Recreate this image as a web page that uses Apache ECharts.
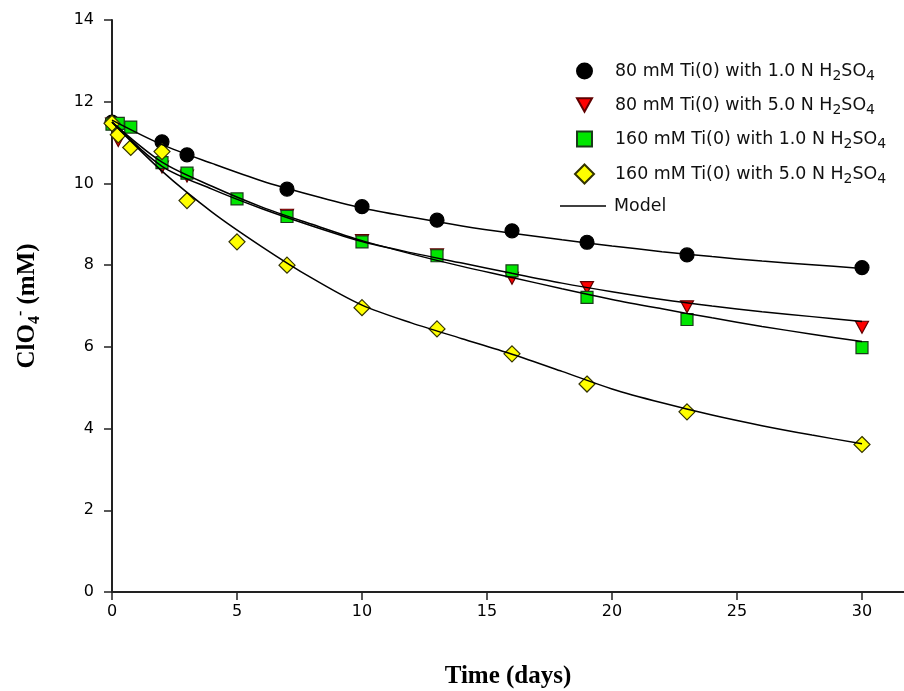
<!DOCTYPE html>
<html>
<head>
<meta charset="utf-8">
<script src="https://cdn.jsdelivr.net/npm/echarts@6/dist/echarts.min.js"></script>
<style>html,body{margin:0;padding:0;background:#fff;}#c{width:904px;height:691px;}</style>
</head>
<body>
<div id="c"></div>
<script>
// ---- data ----
var seriesNames = [
  '80 mM Ti(0) with 1.0 N H2SO4',
  '80 mM Ti(0) with 5.0 N H2SO4',
  '160 mM Ti(0) with 1.0 N H2SO4',
  '160 mM Ti(0) with 5.0 N H2SO4'
];
var timesBlack = [0, 2, 3, 7, 10, 13, 16, 19, 23, 30];
var valuesBlack = [11.5, 11.02, 10.70, 9.86, 9.43, 9.10, 8.84, 8.56, 8.25, 7.94];
var timesRed = [0, 0.25, 2, 3, 7, 10, 13, 16, 19, 23, 30];
var valuesRed = [11.45, 11.05, 10.40, 10.18, 9.22, 8.60, 8.25, 7.68, 7.45, 6.98, 6.48];
var timesGreen = [0, 0.25, 0.75, 2, 3, 5, 7, 10, 13, 16, 19, 23, 30];
var valuesGreen = [11.45, 11.47, 11.38, 10.51, 10.25, 9.62, 9.19, 8.57, 8.23, 7.86, 7.21, 6.67, 5.98];
var timesYellow = [0, 0.25, 0.75, 2, 3, 5, 7, 10, 13, 16, 19, 23, 30];
var valuesYellow = [11.47, 11.19, 10.88, 10.78, 9.58, 8.57, 8.00, 6.96, 6.44, 5.83, 5.09, 4.41, 3.61];

// model curves, every 2 days
var modelTimes = [0, 2, 4, 6, 8, 10, 12, 14, 16, 18, 20, 22, 24, 26, 28, 30];
var modelBlack = [11.55, 10.95, 10.49, 10.06, 9.71, 9.40, 9.17, 8.96, 8.78, 8.62, 8.47, 8.33, 8.21, 8.10, 8.01, 7.92];
var modelRed = [11.5, 10.42, 9.86, 9.38, 8.96, 8.58, 8.30, 8.05, 7.80, 7.56, 7.35, 7.16, 7.00, 6.86, 6.74, 6.62];
var modelGreen = [11.5, 10.52, 9.93, 9.42, 9.00, 8.60, 8.27, 7.97, 7.70, 7.42, 7.16, 6.93, 6.71, 6.50, 6.31, 6.13];
var modelYellow = [11.5, 10.3, 9.3, 8.45, 7.68, 7.02, 6.58, 6.20, 5.82, 5.40, 4.97, 4.63, 4.33, 4.07, 3.84, 3.63];

var xTicks = [0, 5, 10, 15, 20, 25, 30];
var yTicks = [0, 2, 4, 6, 8, 10, 12, 14];

function pairs(xs, ys) { return xs.map(function (x, i) { return [x, ys[i]]; }); }

var chart = echarts.init(document.getElementById('c'), null, { renderer: 'canvas' });
var labelFont = 'Verdana, "DejaVu Sans", sans-serif';
var serif = '"Liberation Serif", "Times New Roman", serif';
var triDown = 'path://M0,0 L10,0 L5,9 Z';
var diamondPath = 'path://M5,0 L10,5 L5,10 L0,5 Z';

function scatter(name, xs, ys, symbol, size, fill, border) {
  return {
    name: name, type: 'scatter', data: pairs(xs, ys), symbol: symbol, symbolSize: size,
    itemStyle: { color: fill, borderColor: border, borderWidth: 1.2, opacity: 1 },
    z: 2
  };
}
function model(ys) {
  return {
    name: 'Model', type: 'line', data: pairs(modelTimes, ys), showSymbol: false, symbol: 'none',
    smooth: 0.3,
    lineStyle: { color: '#000', width: 1.5 }, itemStyle: { color: '#000' }, z: 3, silent: true
  };
}
var legendText = {
  fontFamily: labelFont, fontSize: 17.4, color: '#111', lineHeight: 22,
  rich: {
    n: { fontFamily: labelFont, fontSize: 17.4, color: '#111' },
    s: { fontFamily: labelFont, fontSize: 14, color: '#111', padding: [11, 0, 0, 0] }
  }
};
function legendFormatter(name) {
  var i = name.indexOf('H2SO4');
  if (i < 0) return '{n|' + name + '}';
  return '{n|' + name.slice(0, i) + 'H}{s|2}{n|SO}{s|4}';
}

chart.setOption({
  animation: false,
  backgroundColor: '#fff',
  grid: { left: 112, top: 20, right: 0, bottom: 99, containLabel: false, outerBoundsMode: 'none' },
  legend: [{
    orient: 'vertical', left: 571, top: 55, itemWidth: 15, itemHeight: 15, itemGap: 10.5,
    symbolKeepAspect: true,
    data: [
      { name: seriesNames[0], icon: 'circle' },
      { name: seriesNames[1], icon: triDown },
      { name: seriesNames[2], icon: 'rect' }
    ],
    textStyle: Object.assign({}, legendText, { padding: [0, 0, 0, 18] }),
    formatter: legendFormatter
  }, {
    orient: 'vertical', left: 569, top: 158, itemWidth: 19, itemHeight: 19,
    symbolKeepAspect: true,
    data: [{ name: seriesNames[3], icon: 'diamond' }],
    textStyle: Object.assign({}, legendText, { padding: [0, 0, 0, 16] }),
    formatter: legendFormatter
  }, {
    orient: 'vertical', left: 555, top: 190, itemWidth: 46, itemHeight: 14,
    data: [{ name: 'Model', icon: 'path://M0,0 L44,0 L44,1.2 L0,1.2 Z', itemStyle: { color: '#000' } }],
    textStyle: Object.assign({}, legendText, { padding: [0, 0, 0, 3] }),
    formatter: legendFormatter
  }],
  xAxis: [{
    type: 'value', min: 0, max: 31.68, interval: 5, position: 'bottom',
    name: 'Time (days)', nameLocation: 'middle', nameGap: 72,
    nameTextStyle: { fontFamily: serif, fontWeight: 'bold', fontSize: 25, color: '#000' },
    axisLine: { show: true, onZero: false, lineStyle: { color: '#222', width: 2 } },
    axisTick: { show: true, inside: false, length: 8, customValues: xTicks, lineStyle: { color: '#222', width: 1.5 } },
    axisLabel: { fontFamily: labelFont, fontSize: 16, color: '#000', margin: 12, customValues: xTicks },
    splitLine: { show: false }
  }, {
    type: 'value', min: 0, max: 31.68, position: 'top',
    axisLine: { show: true, lineStyle: { color: '#222', width: 2 } },
    axisTick: { show: false }, axisLabel: { show: false }, splitLine: { show: false }
  }],
  yAxis: {
    type: 'value', min: 0, max: 14, interval: 2,
    name: '{b|ClO}{sub|4}{sup|-}{b| (mM)}', nameLocation: 'middle', nameGap: 69, nameRotate: 90,
    nameTextStyle: {
      rich: {
        b: { fontFamily: serif, fontWeight: 'bold', fontSize: 25, color: '#000' },
        sub: { fontFamily: serif, fontWeight: 'bold', fontSize: 16, color: '#000', padding: [14, 0, 0, 0] },
        sup: { fontFamily: serif, fontWeight: 'bold', fontSize: 16, color: '#000', padding: [0, 0, 14, 0] }
      }
    },
    axisLine: { show: true, onZero: false, lineStyle: { color: '#222', width: 2 } },
    axisTick: { show: true, inside: false, length: 8, customValues: yTicks, lineStyle: { color: '#222', width: 1.5 } },
    axisLabel: { fontFamily: labelFont, fontSize: 16, color: '#000', margin: 18, customValues: yTicks },
    splitLine: { show: false }
  },
  series: [
    scatter(seriesNames[0], timesBlack, valuesBlack, 'circle', 14, '#000', '#000'),
    scatter(seriesNames[1], timesRed, valuesRed, triDown, [13, 12], '#ff0000', '#600000'),
    scatter(seriesNames[2], timesGreen, valuesGreen, 'rect', 12, '#00e600', '#1a3a1a'),
    scatter(seriesNames[3], timesYellow, valuesYellow, diamondPath, [16, 16], '#ffff00', '#333300'),
    model(modelBlack), model(modelRed), model(modelGreen), model(modelYellow)
  ]
});
</script>
</body>
</html>
